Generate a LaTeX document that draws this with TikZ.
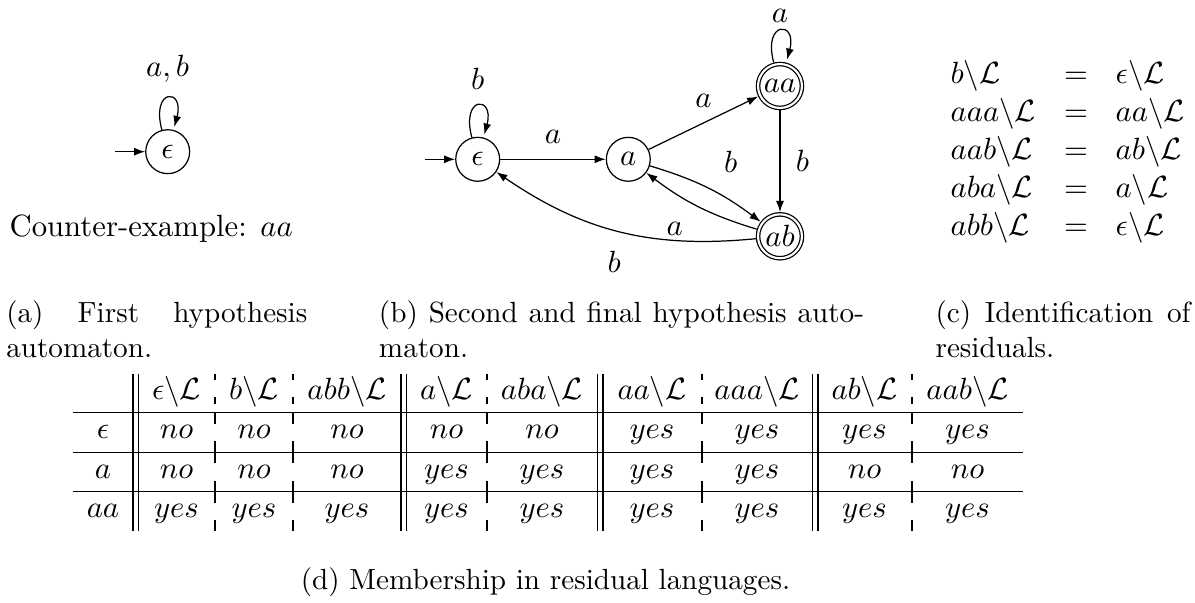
\documentclass[tikz,border=0pt]{standalone}
\usetikzlibrary{arrows.meta,automata}
\tikzset{
  every state/.style={draw,circle,minimum size=14.3pt,inner sep=0.5pt},
  accept/.style={double,double distance=0.7pt,outer sep=0.75pt},
  lbl/.style={inner sep=5pt},
  txt/.style={inner sep=0pt},
  captext/.style={inner sep=0pt,scale=0.95,anchor=base west},
  tabrule/.style={line width=0.4pt},
}
\begin{document}
\begin{tikzpicture}[x=0.3257pt,y=0.3257pt,line width=0.4pt,>={Latex[length=3.6pt,width=2.6pt]}]
\useasboundingbox (0,0) rectangle (1195,-603);
% ---------- (a) first hypothesis
\node[state] (s0) at (167.7,-151.7) {$\epsilon$};
\coordinate (i0) at (115,-151.7);
\draw[->] (i0) -- (s0);
\path[->] (s0) edge[loop above] node[lbl] {$a,b$} ();
\node[txt,anchor=base west] (ce) at (9,-236.7) {Counter-example: $aa$};
% ---------- (b) second hypothesis
\node[state] (e) at (477.7,-159.3) {$\epsilon$};
\node[state] (a) at (628.3,-159.3) {$a$};
\node[state,accept] (aa) at (780,-86) {$aa$};
\node[state,accept] (ab) at (780,-236.3) {$ab$};
\coordinate (ie) at (425,-159.3);
\draw[->] (ie) -- (e);
\path[->]
  (e) edge[loop above] node[lbl] {$b$} ()
  (e) edge node[above,lbl] {$a$} (a)
  (a) edge node[above,lbl] {$a$} (aa)
  (aa) edge[loop above] node[lbl,inner sep=2.5pt] {$a$} ()
  (aa) edge node[right,lbl] {$b$} (ab)
  (a) edge[bend left=10] node[auto,lbl] {$b$} (ab)
  (ab) edge[bend left=10] node[auto,lbl] {$a$} (a)
  (ab) edge[bend left=20] node[auto,lbl,pos=0.43] {$b$} (e);
% ---------- (c) residuals
\foreach \l/\r [count=\i] in {b/\epsilon, aaa/aa, aab/ab, aba/a, abb/\epsilon}{
  \pgfmathsetmacro\yy{-83.3-(\i-1)*37.95}
  \node[txt,anchor=base west] (l\i) at (950,\yy) {$\l\backslash\mathcal{L}$};
  \node[txt,anchor=base] (q\i) at (1076,\yy) {$=$};
  \node[txt,anchor=base west] (r\i) at (1115,\yy) {$\r\backslash\mathcal{L}$};
}
% ---------- captions
\node[captext] (capa) at (5.7,-322.5) {\parbox[t]{103.2pt}{(a) First hypothesis\linebreak automaton.}};
\node[captext] (capb) at (378.4,-322.5) {\parbox[t]{166.3pt}{(b) Second and final hypothesis auto-\linebreak maton.}};
\node[captext] (capc) at (935,-322.5) {\parbox[t]{87.4pt}{(c) Identification of\linebreak residuals.}};
% ---------- (d) table
\foreach \x/\h [count=\i] in {176.5/\epsilon, 254/b, 347/abb, 446.5/a, 542/aba, 652/aa, 757/aaa, 864.5/ab, 967.5/aab}{
  \node[txt,anchor=base] (h\i) at (\x,-399.3) {$\h\backslash\mathcal{L}$};
}
\node[txt,anchor=base] (re) at (103,-438.8) {$\epsilon$};
\node[txt,anchor=base] (ra) at (103,-478.4) {$a$};
\node[txt,anchor=base] (raa) at (103,-517.8) {$aa$};
\foreach \x/\p/\q/\r [count=\i] in {176.5/no/no/yes, 254/no/no/yes, 347/no/no/yes, 446.5/no/yes/yes, 542/no/yes/yes, 652/yes/yes/yes, 757/yes/yes/yes, 864.5/yes/no/yes, 967.5/yes/no/yes}{
  \node[txt,anchor=base] (c1\i) at (\x,-438.8) {$\p$};
  \node[txt,anchor=base] (c2\i) at (\x,-478.4) {$\q$};
  \node[txt,anchor=base] (c3\i) at (\x,-517.8) {$\r$};
}
\foreach \y in {412.7,452.3,491.7} \draw[tabrule] (72.5,-\y) -- (1023,-\y);
\foreach \x in {133,138.5,401,406.5,597.5,603,812.5,818} \draw[tabrule] (\x,-374) -- (\x,-531);
\foreach \x in {215,293,487,702,912}{
  \draw[tabrule] (\x,-374) -- (\x,-380);
  \draw[tabrule] (\x,-397) -- (\x,-404);
  \foreach \t in {412.7,452.3,491.7}{
    \draw[tabrule] (\x,-\t) -- ++(0,-11);
    \draw[tabrule] (\x,-\t-28.5) -- ++(0,-11);
  }
}
\node[txt,scale=0.95,anchor=base] (capd) at (545.5,-589.4) {(d) Membership in residual languages.};
\end{tikzpicture}
\end{document}
